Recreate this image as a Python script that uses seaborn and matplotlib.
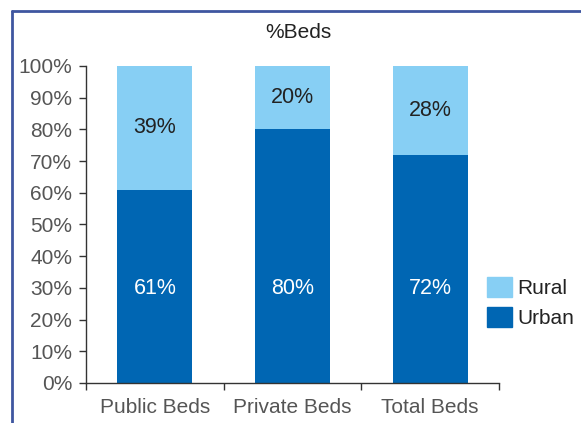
import numpy as np
import pandas as pd
import matplotlib
matplotlib.use('Agg')
import matplotlib.pyplot as plt
import seaborn as sns
from matplotlib.lines import Line2D
from matplotlib.patches import Patch

categories = ['Public Beds', 'Private Beds', 'Total Beds']
urban = [61, 80, 72]
rural = [39, 20, 28]

urban_col = '#0066B3'
rural_col = '#87CFF4'

sns.set_style('white')
plt.rcParams['font.family'] = ['Liberation Sans', 'DejaVu Sans']

df = pd.DataFrame({'cat': categories, 'urban': urban, 'rural': rural})
df['total'] = df['urban'] + df['rural']

fig = plt.figure(figsize=(5.81, 4.23), dpi=100)
ax = fig.add_axes([0.148, 0.0946, 0.711, 0.7494])

# stacked look: full height in rural colour, urban drawn over it
sns.barplot(data=df, x='cat', y='total', color=rural_col, width=0.545,
            saturation=1, linewidth=0, ax=ax)
sns.barplot(data=df, x='cat', y='urban', color=urban_col, width=0.545,
            saturation=1, linewidth=0, ax=ax)

for i, row in df.iterrows():
    ax.text(i, row['urban'] + row['rural'] / 2, f"{row['rural']}%",
            ha='center', va='center', fontsize=15.5, color='#222222')
    ax.text(i, 29.7, f"{row['urban']}%", ha='center', va='center',
            fontsize=15.5, color='white')

ax.set_ylim(0, 100)
ax.set_xlim(-0.5, 2.5)
ax.set_yticks(np.arange(0, 101, 10))
ax.set_yticklabels([f'{v}%' for v in range(0, 101, 10)])
ax.set_xlabel('')
ax.set_ylabel('')
ax.set_xticks([0, 1, 2])
ax.set_xticks([-0.5, 0.5, 1.5, 2.5], minor=True)
ax.tick_params(axis='x', which='major', length=0, pad=11, labelsize=15,
               labelcolor='#555555')
ax.tick_params(axis='x', which='minor', length=5, width=1, color='#333333',
               bottom=True, direction='out')
ax.tick_params(axis='y', length=5, width=1, color='#333333', left=True,
               direction='out', labelsize=15, labelcolor='#555555', pad=5)
for s in ['top', 'right']:
    ax.spines[s].set_visible(False)
for s in ['left', 'bottom']:
    ax.spines[s].set_color('#333333')
    ax.spines[s].set_linewidth(1)

fig.text(0.513, 0.922, '%Beds', ha='center', va='center', fontsize=15,
         color='#222222')

handles = [Patch(color=rural_col, label='Rural'),
           Patch(color=urban_col, label='Urban')]
fig.legend(handles=handles, loc='upper left', bbox_to_anchor=(0.813, 0.38),
           frameon=False, fontsize=15, handlelength=1.2, handleheight=1.1,
           handletextpad=0.25, labelspacing=0.45, borderpad=0.2,
           labelcolor='#222222')

# frame lines at the left and top of the picture
fig.add_artist(Line2D([12 / 581, 12 / 581], [0, 1 - 11 / 423],
                      transform=fig.transFigure, color='#3F56A0', lw=2))
fig.add_artist(Line2D([12 / 581, 1], [1 - 11 / 423, 1 - 11 / 423],
                      transform=fig.transFigure, color='#3F56A0', lw=2))

fig.savefig('out.png', dpi=100)
